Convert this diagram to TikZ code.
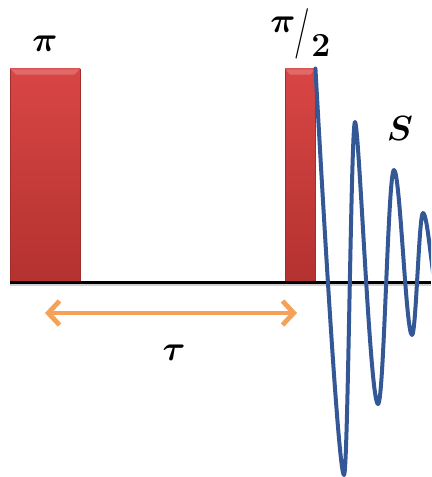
\documentclass[tikz,border=0pt]{standalone}
\usepackage{amsmath,amssymb}
\usepackage{graphicx}
\usepackage{xcolor}
\usepackage{tikz}
\usetikzlibrary{arrows.meta,positioning,calc,shadows}

\definecolor{pulsered}{RGB}{216,70,68}
\definecolor{pulsedark}{RGB}{180,50,48}
\definecolor{fidblue}{RGB}{52,88,150}
\definecolor{tauorange}{RGB}{245,162,88}

\begin{document}
\begin{tikzpicture}[x=0.25mm, y=-0.25mm,
  pulse/.style={draw=pulsedark!90!black, line width=0.3pt, top color=pulsered,
                bottom color=pulsedark, anchor=south west, inner sep=0pt,
                minimum height=53mm,
                drop shadow={opacity=0.2, shadow xshift=0.8pt, shadow yshift=-0.8pt}},
  bevel/.style={fill=pulsered!75!white, opacity=0.8},
  lbl/.style={font=\fontsize{24}{28}\selectfont, inner sep=0pt},
  arr/.style={{Straight Barb[length=2.8mm, width=6mm]}-{Straight Barb[length=2.8mm, width=6mm]},
              line width=1.2mm, tauorange},
  fid/.style={fidblue, line width=1mm, line cap=round, line join=round}]
  \useasboundingbox (0,0) rectangle (431,477);

  % pulses
  \node[pulse, minimum width=17.5mm] (pi)     at (10,281) {};
  \node[pulse, minimum width=7.5mm]  (halfpi) at (285,281) {};
  \fill[bevel] (pi.north west) -- (pi.north east) -- ([shift={(-6,6)}]pi.north east)
    -- ([shift={(6,6)}]pi.north west) -- cycle;
  \fill[bevel] (halfpi.north west) -- (halfpi.north east) -- ([shift={(-5,6)}]halfpi.north east)
    -- ([shift={(5,6)}]halfpi.north west) -- cycle;

  % time axis
  \coordinate (axisstart) at (10,282);
  \coordinate (axisend)   at (431,282);
  \draw[black!30, line width=1mm, opacity=0.6] ([yshift=-1.6pt]axisstart) -- ([yshift=-1.6pt]axisend);
  \draw[line width=0.75mm] (axisstart) -- (axisend);

  % signal
  \begin{scope}
    \clip (0,0) rectangle (431,477);
    \draw[fid] (halfpi.north east)
      .. controls (320,150) and (338,475) .. (344,475)
      .. controls (348,475) and (351,122) .. (355,122)
      .. controls (359,122) and (370,404) .. (378,404)
      .. controls (384,404) and (388,170) .. (394,170)
      .. controls (400,170) and (406,335) .. (412,335)
      .. controls (416,335) and (419,213) .. (423,213)
      .. controls (428,213) and (433,290) .. (437,290);
  \end{scope}

  % delay
  \coordinate (tauL) at (45,313);
  \coordinate (tauR) at (297,313);
  \draw[arr] (tauL) -- (tauR);

  \node[lbl] (pilbl)   at (45,44)   {$\boldsymbol{\pi}$};
  \node[lbl, anchor=base west] (halflbl) at (270,57)
    {\raisebox{.72em}{$\boldsymbol{\pi}$}\kern-.02em\raisebox{.3em}{\scalebox{1}[1.5]{/}}\kern.03em\textbf{2}};
  \node[lbl] (slbl)    at (400,129) {$\boldsymbol{S}$};
  \node[lbl] (taulbl)  at (174,353) {$\boldsymbol{\tau}$};
\end{tikzpicture}
\end{document}
